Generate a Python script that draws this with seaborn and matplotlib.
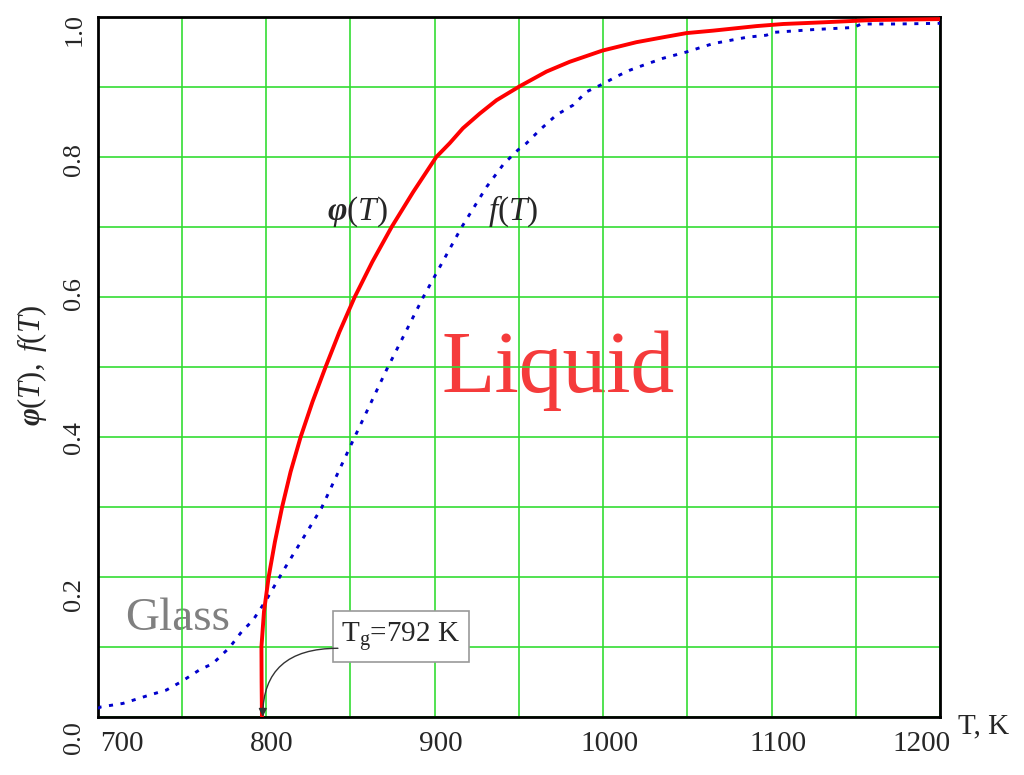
import numpy as np
import pandas as pd
import matplotlib
matplotlib.use("Agg")
import matplotlib.pyplot as plt
from matplotlib.transforms import ScaledTranslation
import seaborn as sns

# ---- data ----
T_phi = [797.5, 797.3, 797.2, 798.7, 801.5, 805.2, 809.5, 814.5, 820.5, 827.5,
         835.3, 843.5, 852.6, 863.0, 874.5, 887.3, 901.0, 908.9, 916.8, 926.8,
         936.7, 950.5, 966.4, 980.2, 999.6, 1019.8, 1035.6, 1049.5, 1065.3,
         1091.1, 1106.9, 1130.6, 1160.3, 1200.0]
phi = [0.0, 0.05, 0.10, 0.15, 0.20, 0.25, 0.30, 0.35, 0.40, 0.45,
       0.50, 0.55, 0.60, 0.65, 0.70, 0.75, 0.80, 0.8195, 0.841, 0.862,
       0.881, 0.901, 0.922, 0.936, 0.952, 0.964, 0.971, 0.977, 0.9805,
       0.987, 0.990, 0.9924, 0.9957, 0.997]

T_f = [700.0, 702.0, 715.0, 730.8, 740.7, 749.6, 760.5, 768.4, 778.3, 785.3,
       792.2, 800.1, 811.0, 832.8, 852.6, 871.4, 893.1, 915.9, 930.8, 941.0,
       949.5, 954.5, 962.4, 972.3, 982.2, 990.1, 999.6, 1008.0, 1015.9, 1023.8,
       1035.6, 1049.5, 1065.3, 1085.2, 1097.0, 1101.0, 1124.7, 1148.5, 1153.4,
       1174.2, 1200.0]
f_vals = [0.012, 0.014, 0.019, 0.031, 0.038, 0.050, 0.067, 0.076, 0.099, 0.121,
          0.138, 0.167, 0.212, 0.298, 0.400, 0.4955, 0.599, 0.699, 0.757, 0.790,
          0.810, 0.8195, 0.8385, 0.860, 0.874, 0.893, 0.904, 0.915, 0.924, 0.931,
          0.941, 0.950, 0.962, 0.971, 0.974, 0.978, 0.982, 0.985, 0.990,
          0.990, 0.991]

x_ticks = [700, 800, 900, 1000, 1100, 1200]
x_grid = [750, 850, 950, 1050, 1150]
y_ticks = [0.0, 0.2, 0.4, 0.6, 0.8, 1.0]
y_grid = [0.1, 0.3, 0.5, 0.7, 0.9]
y_tick_labels = ["0.0", "0.2", "0.4", "0.6", "0.8", "1.0"]

# ---- style ----
sns.set_theme(style="white")
plt.rcParams["font.family"] = ["Liberation Serif", "DejaVu Serif"]
plt.rcParams["mathtext.fontset"] = "custom"
plt.rcParams["mathtext.rm"] = "Liberation Serif"
plt.rcParams["mathtext.it"] = "Liberation Serif:italic"
plt.rcParams["mathtext.bf"] = "Liberation Serif:italic:bold"

fig = plt.figure(figsize=(10.24, 7.75), dpi=100)
ax = fig.add_axes([97.7 / 1024, 1 - 716.7 / 775, (940 - 97.7) / 1024, (716.7 - 17) / 775])

df_phi = pd.DataFrame({"T": T_phi, "v": phi})
df_f = pd.DataFrame({"T": T_f, "v": f_vals})

sns.lineplot(data=df_f, x="T", y="v", sort=False, estimator=None, ax=ax,
             color="#0000CC", lw=2.1, linestyle=(0, (1.4, 2.6)), zorder=3)
sns.lineplot(data=df_phi, x="T", y="v", sort=False, estimator=None, ax=ax,
             color="#FF0000", lw=2.8, zorder=4)

ax.set_xlim(700, 1200)
ax.set_ylim(0, 1)
ax.set_xticks(x_ticks)
ax.set_xticks(x_grid, minor=True)
ax.set_yticks(y_ticks)
ax.set_yticks(y_grid, minor=True)
ax.set_yticklabels(y_tick_labels)
ax.set_axisbelow(True)
ax.grid(True, which="both", color="#33DD33", lw=1.2)
ax.tick_params(which="both", length=0)
ax.tick_params(axis="x", labelsize=21, pad=10)
ax.tick_params(axis="y", labelsize=19, pad=9)
ax.set_xlabel("")
ax.set_ylabel("")
for s in ax.spines.values():
    s.set_visible(True)
    s.set_color("black")
    s.set_linewidth(2.0)

# tick label fine placement
xl = ax.get_xticklabels()
for i, lab in enumerate(xl):
    dx = 6
    if i == 0:
        lab.set_ha("left")
        dx = 2
    if i == len(xl) - 1:
        dx = -18
    lab.set_transform(lab.get_transform() + ScaledTranslation(dx / 100, 0, fig.dpi_scale_trans))

y_offsets = [-21, -18, -1, 3, -3, -13]
for lab, dy in zip(ax.get_yticklabels(), y_offsets):
    lab.set_rotation(90)
    lab.set_va("center")
    lab.set_ha("right")
    lab.set_transform(lab.get_transform() + ScaledTranslation(0, dy / 100, fig.dpi_scale_trans))

# axis labels
fig.text(31.7 / 1024, 1 - 366 / 775, r"$\mathbf{\varphi}\mathit{(T),\ f(T)}$",
         rotation=90, ha="center", va="center", fontsize=22)
fig.text(958 / 1024, 1 - 733 / 775, "T, K", ha="left", va="baseline", fontsize=21)

# annotations in the plot
ax.text(835.9, 0.71, r"$\mathbf{\varphi}\mathit{(T)}$", fontsize=24, ha="left", va="baseline", zorder=2)
ax.text(931.5, 0.71, r"$\mathit{f(T)}$", fontsize=24, ha="left", va="baseline", zorder=2)
ax.text(904.0, 0.4645, "Liquid", fontsize=63, color="#F53B3B", ha="left", va="baseline", zorder=0.4)
ax.text(716.0, 0.124, "Glass", fontsize=34, color="#808080", ha="left", va="baseline", zorder=0.4)

ax.text(844.7, 0.107, r"T$_\mathrm{g}$=792 K", fontsize=21, ha="left", va="baseline", zorder=6,
        bbox=dict(boxstyle="square,pad=0.3", fc="white", ec="#999999", lw=1.2))
ax.annotate("", xy=(798.0, 0.0), xytext=(842.6, 0.0978), zorder=6,
            arrowprops=dict(arrowstyle="-|>", color="#333333", lw=1.0, mutation_scale=12,
                            connectionstyle="angle3,angleA=0,angleB=90", shrinkA=0, shrinkB=0))

fig.savefig("out.png", dpi=100)
